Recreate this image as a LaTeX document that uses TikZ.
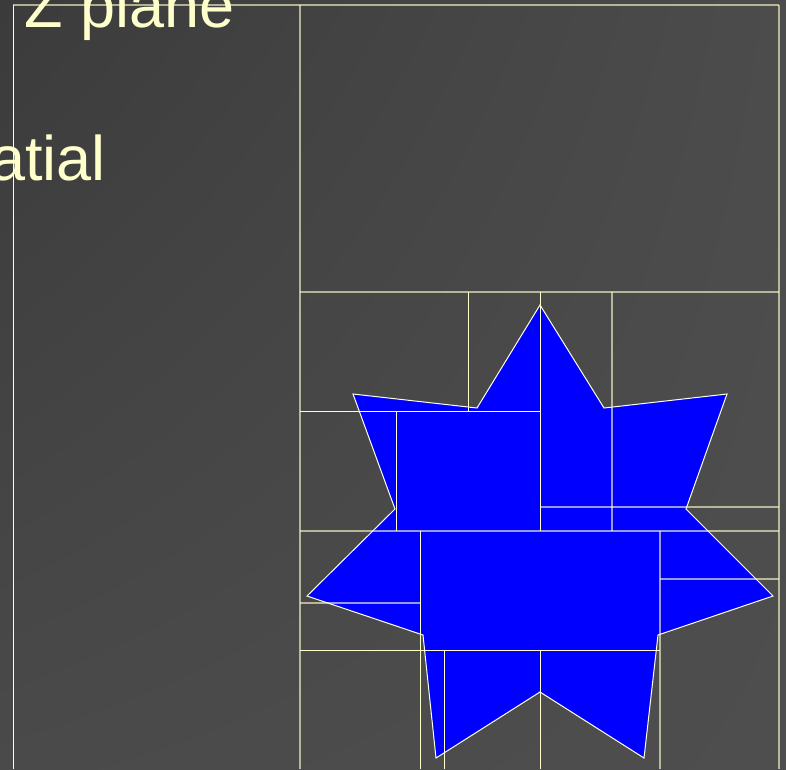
\documentclass[tikz,border=0pt]{standalone}
\usetikzlibrary{shadings}
\usepackage{fontspec}
\setmainfont{Liberation Sans}
\begin{document}
\begin{tikzpicture}[x=1pt,y=-1pt,
  cellA/.style={draw=cream, line width=1pt},
  cellB/.style={draw=cream, draw opacity=0.6, line width=1.4pt},
  starfill/.style={fill=starblue},
  staredge/.style={draw=starline, line width=1pt, line join=miter},
  label/.style={text=cream, inner sep=0pt, font=\fontsize{63}{63}\selectfont}]
\definecolor{cream}{HTML}{FFFFCC}
\definecolor{starblue}{HTML}{0000FF}
\definecolor{starline}{HTML}{FFFFE8}
\definecolor{bgA}{HTML}{3B3B3B}
\definecolor{bgB}{HTML}{4C4C4C}
\definecolor{bgC}{HTML}{4A4A4A}
\definecolor{bgD}{HTML}{4E4E4E}
\useasboundingbox (0,0) rectangle (786,769);
\clip (0,0) rectangle (786,769);
\shade[upper left=bgA, upper right=bgB, lower left=bgC, lower right=bgD] (0,0) rectangle (786,769);
% text
\node[label, anchor=base west] (zp) at (24,27) {Z plane};
\node[label, anchor=base east] (sp) at (106,180) {atial};
% star
\path[starfill] (540,305) -- (477,408) -- (353,394) -- (395,509) -- (307,596) -- (423,635)
  -- (436,758) -- (540,692) -- (644,758) -- (658,635) -- (773,596) -- (686,509)
  -- (727,394) -- (604,408) -- cycle;
% translucent subdivision lines
\draw[cellB] (13,5) -- (779,5);
\draw[cellB] (779,5) -- (779,769);
\draw[cellB] (300,5) -- (300,769);
\draw[cellB] (300,292) -- (779,292);
\draw[cellB] (300,531) -- (779,531);
\draw[cellB] (540,507) -- (779,507);
\draw[cellB] (612,292) -- (612,531);
\draw[cellB] (660,531) -- (660,769);
\draw[cellB] (660,579) -- (779,579);
\draw[cellB] (300,603) -- (420,603);
% opaque subdivision lines
\draw[cellA] (13,5) -- (13,769);
\draw[cellA] (468,292) -- (468,411);
\draw[cellA] (540,292) -- (540,531);
\draw[cellA] (300,411) -- (540,411);
\draw[cellA] (396,411) -- (396,531);
\draw[cellA] (420,531) -- (420,769);
\draw[cellA] (300,650) -- (660,650);
\draw[cellA] (444,650) -- (444,769);
\draw[cellA] (540,650) -- (540,769);
% star outline on top
\draw[staredge] (540,305) -- (477,408) -- (353,394) -- (395,509) -- (307,596) -- (423,635)
  -- (436,758) -- (540,692) -- (644,758) -- (658,635) -- (773,596) -- (686,509)
  -- (727,394) -- (604,408) -- cycle;
\end{tikzpicture}
\end{document}
